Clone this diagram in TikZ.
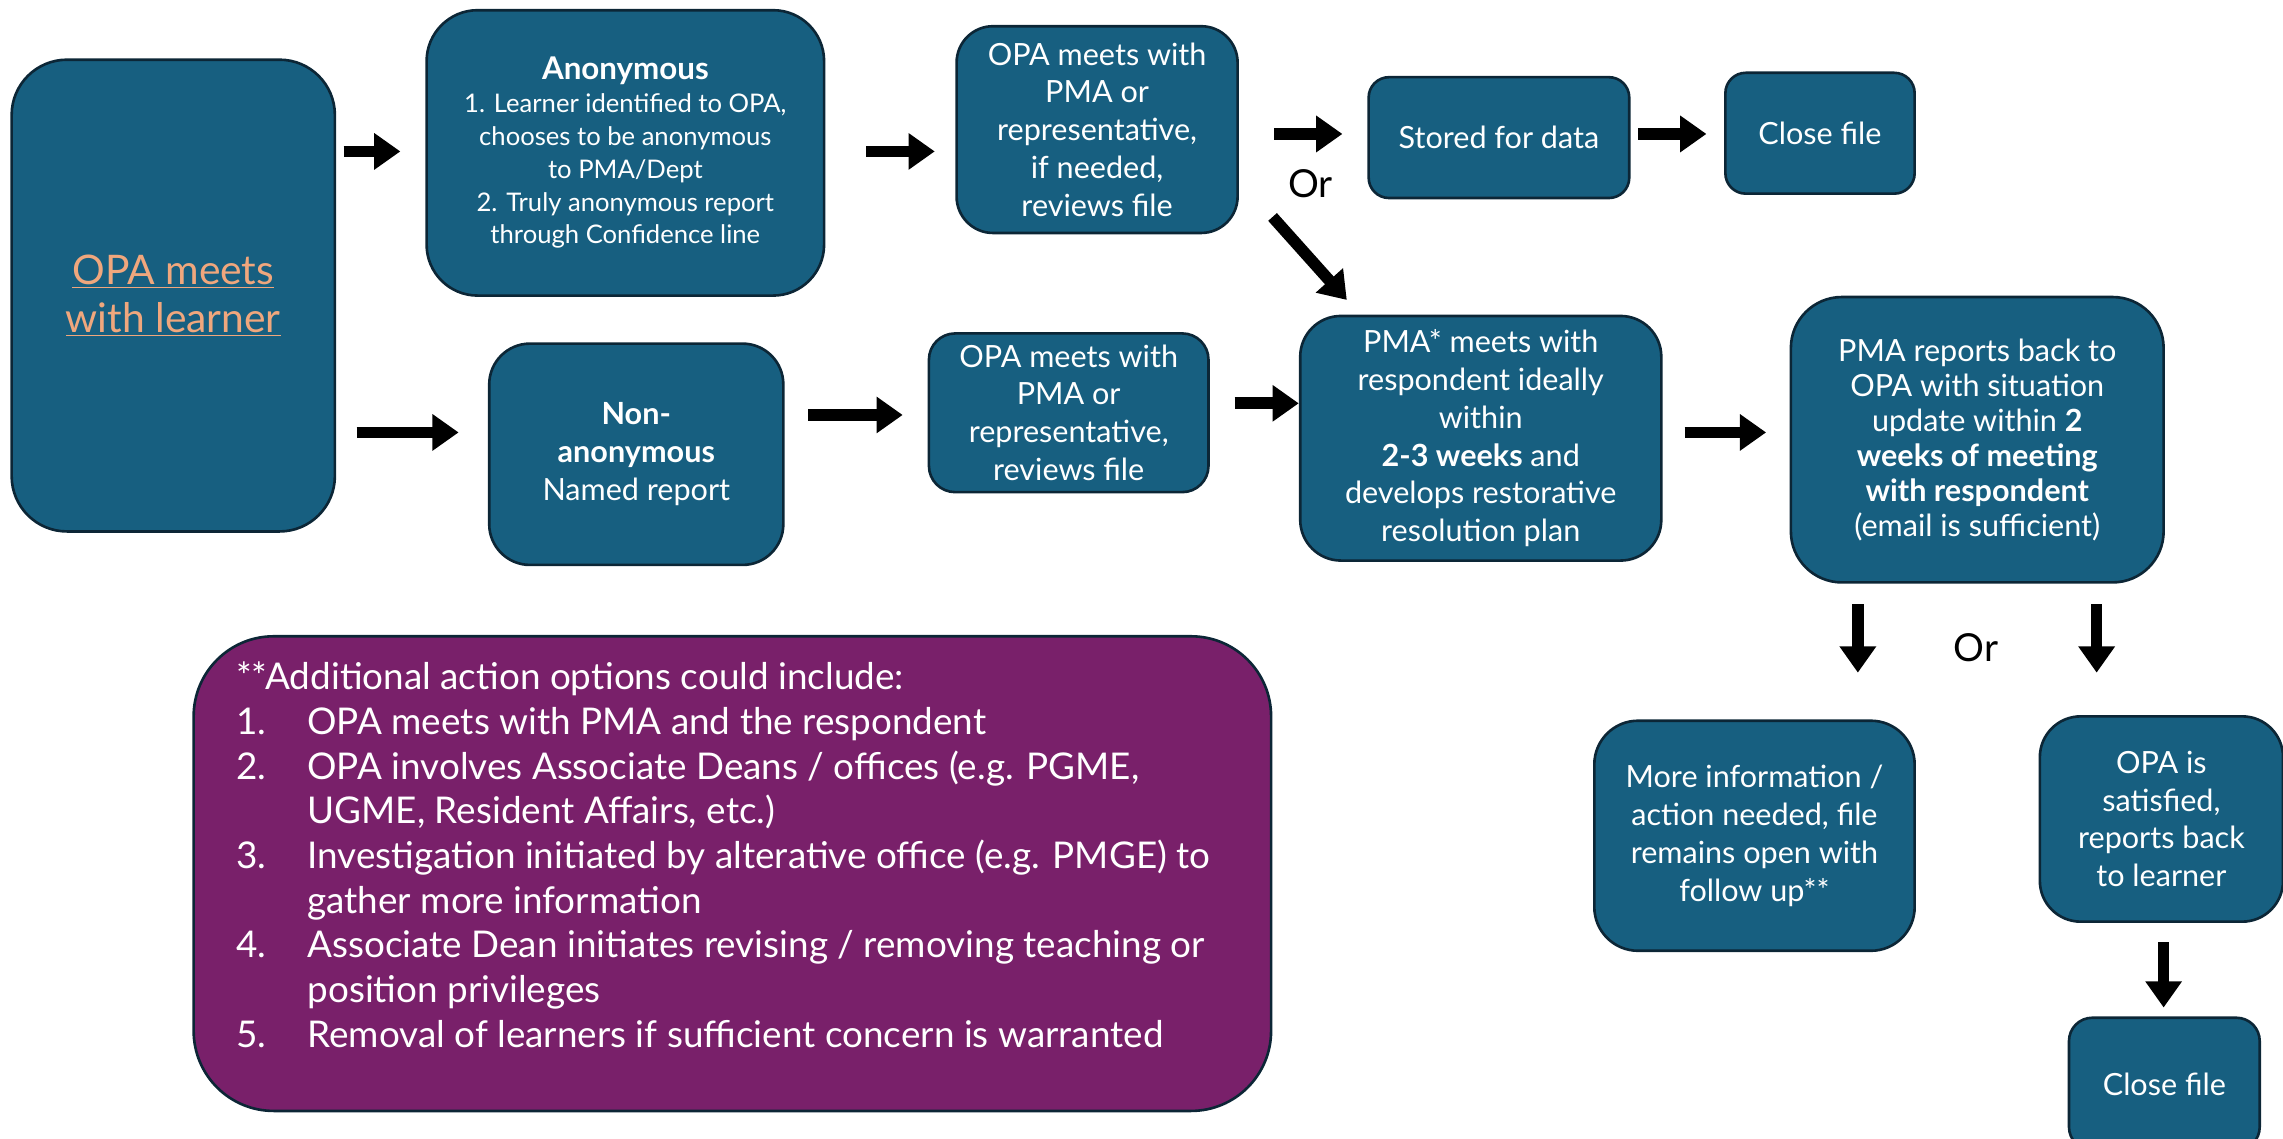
\documentclass[tikz,border=0pt]{standalone}
\usepackage{fontspec}
\setmainfont{Lato}
\usetikzlibrary{arrows.meta,calc}
\definecolor{boxblue}{RGB}{23,95,128}
\definecolor{boxedge}{RGB}{12,38,54}
\definecolor{addpurple}{RGB}{121,32,106}
\definecolor{linkorange}{RGB}{240,167,125}
\begin{document}
\begin{tikzpicture}[x=1pt,y=-1pt,
  flowbox/.style={draw=boxedge, fill=boxblue, line width=1.8pt, text=white, align=center, inner sep=0pt, font=\fontsize{21}{26}\selectfont},
  blockarrow/.style={line width=8pt, black, -{Triangle[length=18pt,width=24pt]}},
  ortext/.style={font=\fontsize{26.5}{30}\selectfont, text=black, inner sep=0pt}
]
\useasboundingbox (0,0) rectangle (1568,782);
\clip (0,0) rectangle (1568,782);

\node[flowbox, rounded corners=38pt, minimum width=222pt, minimum height=324pt,
      font=\fontsize{28}{33}\selectfont, text=linkorange] (learner) at (119,203)
  {\underline{OPA meets}\\\underline{with learner}};

\node[flowbox, rounded corners=35pt, minimum width=273pt, minimum height=196pt,
      font=\fontsize{17.6}{22.5}\selectfont] (anon) at (429.5,105)
  {{\fontsize{21.5}{22.5}\selectfont\bfseries Anonymous}\\1. Learner identified to OPA,\\chooses to be anonymous\\to PMA/Dept\\2. Truly anonymous report\\through Confidence line};

\node[flowbox, rounded corners=28pt, minimum width=202pt, minimum height=152pt] (nonanon) at (437,312)
  {\textbf{Non-}\\\textbf{anonymous}\\Named report};

\node[flowbox, rounded corners=25pt, minimum width=193pt, minimum height=142pt] (opa1) at (753.5,89)
  {OPA meets with\\PMA or\\representative,\\if needed,\\reviews file};

\node[flowbox, rounded corners=18pt, minimum width=192pt, minimum height=109pt] (opa2) at (734,283.5)
  {OPA meets with\\PMA or\\representative,\\reviews file};

\node[flowbox, rounded corners=14pt, minimum width=179pt, minimum height=83pt] (stored) at (1029.5,94.5)
  {Stored for data};

\node[flowbox, rounded corners=14pt, minimum width=130pt, minimum height=83pt] (close1) at (1250,91.5)
  {Close file};

\node[flowbox, rounded corners=28pt, minimum width=248pt, minimum height=168pt] (pma) at (1017,301)
  {PMA* meets with\\respondent ideally\\within\\\textbf{2-3 weeks} and\\develops restorative\\resolution plan};

\node[flowbox, rounded corners=35pt, minimum width=256pt, minimum height=196pt,
      font=\fontsize{21}{24}\selectfont] (report) at (1358,302)
  {PMA reports back to\\OPA with situation\\update within \textbf{2}\\\textbf{weeks of meeting}\\\textbf{with respondent}\\(email is sufficient)};

\node[flowbox, rounded corners=30pt, minimum width=220pt, minimum height=158pt] (more) at (1205,574)
  {More information /\\action needed, file\\remains open with\\follow up**};

\node[flowbox, rounded corners=28pt, minimum width=167pt, minimum height=141pt] (sat) at (1484.5,562.5)
  {OPA is\\satisfied,\\reports back\\to learner};

\node[flowbox, rounded corners=16pt, minimum width=131pt, minimum height=91pt] (close2) at (1486.5,744.5)
  {Close file};

\node[draw=boxedge, fill=addpurple, line width=1.8pt, rounded corners=55pt,
      minimum width=740pt, minimum height=326pt, inner sep=0pt] (addl) at (503,600) {};
\node[anchor=north west, text=white, inner sep=0pt, font=\fontsize{25.3}{30.7}\selectfont] (addltext) at (162,452)
  {\begin{tabular}{@{}p{49pt}@{}l@{}}
   \multicolumn{2}{@{}l@{}}{**Additional action options could include:}\\
   1. & OPA meets with PMA and the respondent\\
   2. & OPA involves Associate Deans / offices (e.g. PGME,\\
      & UGME, Resident Affairs, etc.)\\
   3. & Investigation initiated by alterative office (e.g. PMGE) to\\
      & gather more information\\
   4. & Associate Dean initiates revising / removing teaching or\\
      & position privileges\\
   5. & Removal of learners if sufficient concern is warranted
   \end{tabular}};

\node[ortext] (or1) at (900,126) {Or};
\node[ortext] (or2) at (1357,445) {Or};

% arrow end points
\coordinate (a1s) at (236,104);  \coordinate (a1e) at (275,104);
\coordinate (a2s) at (245,297);  \coordinate (a2e) at (315,297);
\coordinate (a3s) at (595,104);  \coordinate (a3e) at (642,104);
\coordinate (a4s) at (555,285);  \coordinate (a4e) at (620,285);
\coordinate (a5s) at (875,92);   \coordinate (a5e) at (922,92);
\coordinate (a6s) at (1125,92);  \coordinate (a6e) at (1172,92);
\coordinate (a7s) at (874,149);  \coordinate (a7e) at (925,206);
\coordinate (a8s) at (848,277);  \coordinate (a8e) at (892,277);
\coordinate (a9s) at (1157,297); \coordinate (a9e) at (1213,297);
\coordinate (a10s) at (1276,415); \coordinate (a10e) at (1276,462);
\coordinate (a11s) at (1440,415); \coordinate (a11e) at (1440,462);
\coordinate (a12s) at (1486,647); \coordinate (a12e) at (1486,692);

\foreach \i in {1,...,12} {\draw[blockarrow] (a\i s) -- (a\i e);}
\end{tikzpicture}
\end{document}
